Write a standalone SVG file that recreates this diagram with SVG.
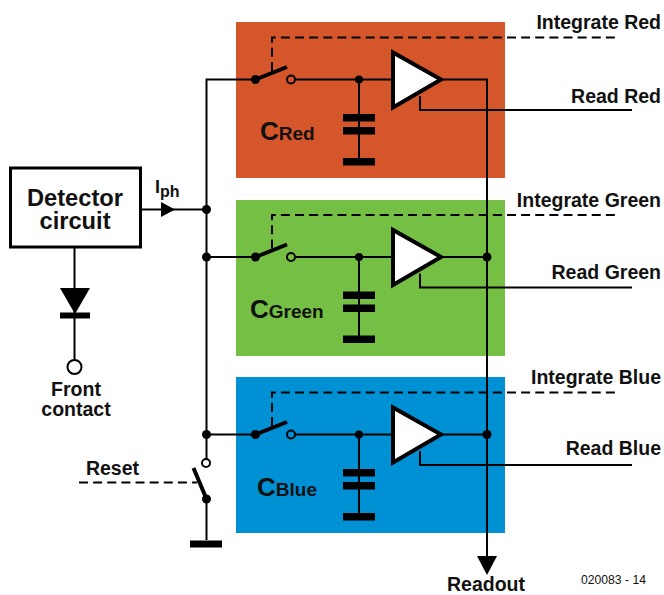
<svg xmlns="http://www.w3.org/2000/svg" xmlns:xlink="http://www.w3.org/1999/xlink" width="664" height="595" viewBox="0 0 664 595">
<style>
text{font-family:"Liberation Sans",Arial,sans-serif;font-weight:bold;fill:#111}
.w{fill:none;stroke:#000;stroke-width:2}
.d{fill:none;stroke:#000;stroke-width:2;stroke-dasharray:9 5.130}
.l{font-size:19.500px;text-anchor:end}
.c{font-size:19.500px;text-anchor:middle}
.dot{fill:#000}
.open{fill:none;stroke:#000;stroke-width:2}
.lever{stroke:#000;stroke-width:4;fill:none}
.amp{fill:#fff;stroke:#000;stroke-width:4}
</style>
<defs>
<g id="stage">
<path class="w" d="M296 79.500H392M359 79.500V160"/>
<path class="d" d="M272 71V37.500H615"/>
<circle class="dot" cx="255.500" cy="79.500" r="4.500"/>
<path class="lever" d="M255.500 79.500L287 67"/>
<circle class="open" cx="291" cy="79.500" r="4"/>
<circle class="dot" cx="359" cy="79.500" r="4"/>
<rect x="343" y="114" width="32" height="7.500"/>
<rect x="343" y="127" width="32" height="7.500"/>
<rect x="343" y="158" width="32" height="7.500"/>
<path class="w" d="M420 96V110H632"/>
<path class="amp" d="M393 52.500V107.500L441 79.500Z"/>
</g>
</defs>
<rect id="panel-red" x="236" y="22" width="269" height="156" fill="#d4562a"/>
<rect id="panel-green" x="236" y="200" width="269" height="156" fill="#75c044"/>
<rect id="panel-blue" x="236" y="377" width="269" height="156" fill="#0090d4"/>
<g id="connectors">
<path class="w" d="M141 209.500H206.500M74.500 248V360M206.500 459V79.500H256M206.500 257H256M206.500 434.500H256M206.500 499V540"/>
<path class="w" d="M440 79.500H487V558M440 257H487M440 434.500H487"/>
<path class="d" d="M79 482.500H197"/>
<path d="M161 202L175 209.500L161 217Z"/>
<path d="M477 556H497L487 575Z"/>
</g>
<g id="stage-red"><use xlink:href="#stage" href="#stage"/><text x="260" y="139.500" font-size="26">C<tspan font-size="19">Red</tspan></text></g>
<g id="stage-green"><use xlink:href="#stage" href="#stage" y="177.500"/><text x="250" y="317.500" font-size="26">C<tspan font-size="19">Green</tspan></text></g>
<g id="stage-blue"><use xlink:href="#stage" href="#stage" y="355"/><text x="257" y="495.500" font-size="26">C<tspan font-size="19">Blue</tspan></text></g>
<g id="junctions">
<circle class="dot" cx="206.500" cy="209.500" r="4.500"/>
<circle class="dot" cx="206.500" cy="257" r="4.500"/>
<circle class="dot" cx="206.500" cy="434.500" r="4.500"/>
<circle class="dot" cx="487" cy="257" r="4.500"/>
<circle class="dot" cx="487" cy="434.500" r="4.500"/>
</g>
<g id="detector">
<rect x="10.500" y="168" width="130" height="79" fill="#fff" stroke="#000" stroke-width="3"/>
<text font-size="23.700" text-anchor="middle"><tspan x="75" y="206">Detector</tspan><tspan x="75" y="229">circuit</tspan></text>
</g>
<g id="iph"><text x="155" y="193" font-size="18">I<tspan font-size="16" dy="4">ph</tspan></text></g>
<g id="diode">
<path d="M60 288H90L75 314Z"/>
<rect x="60" y="312.500" width="30" height="6"/>
<circle cx="74.500" cy="367" r="7" fill="#fff" stroke="#000" stroke-width="2"/>
<text class="c" x="76" y="396">Front</text>
<text class="c" x="76" y="416">contact</text>
</g>
<g id="reset">
<text class="l" x="139" y="475">Reset</text>
<circle class="open" cx="206" cy="463" r="4"/>
<path class="lever" d="M193.500 468L206.500 499"/>
<circle class="dot" cx="206.500" cy="499" r="4.500"/>
<rect x="190" y="540.500" width="32" height="7"/>
</g>
<g id="labels">
<text class="l" x="661" y="29">Integrate Red</text>
<text class="l" x="661" y="103">Read Red</text>
<text class="l" x="661" y="207">Integrate Green</text>
<text class="l" x="661" y="279">Read Green</text>
<text class="l" x="661" y="384">Integrate Blue</text>
<text class="l" x="661" y="455">Read Blue</text>
<text class="c" x="486" y="591">Readout</text>
<text x="646" y="584" text-anchor="end" style="font-weight:normal" font-size="12.200">020083 - 14</text>
</g>
</svg>
